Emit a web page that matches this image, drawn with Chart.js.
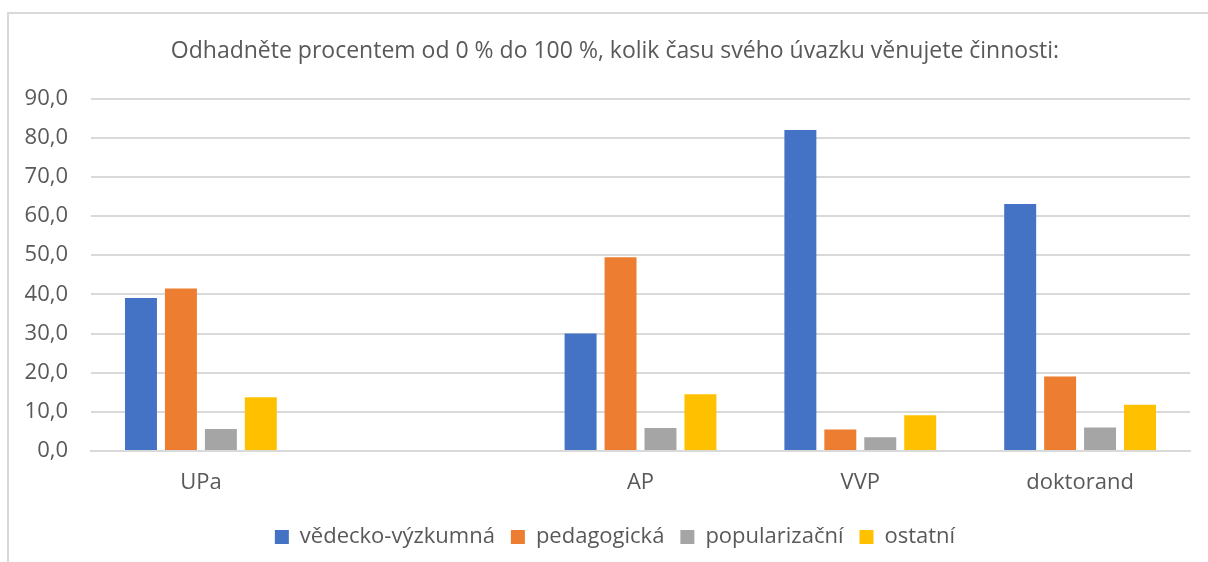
<!DOCTYPE html>
<html>
<head>
<meta charset="utf-8">
<script src="https://cdn.jsdelivr.net/npm/chart.js@4.4.1/dist/chart.umd.min.js"></script>
<style>
  html, body { margin: 0; padding: 0; background: #fff; }
  #wrap { position: relative; width: 1208px; height: 562px; }
</style>
</head>
<body>
<div id="wrap"><canvas id="barChart"></canvas></div>
<script>
// data
const categories = ['UPa', '', 'AP', 'VVP', 'doktorand'];
const vedecko = [39.1, null, 30.0, 82.0, 63.1];
const pedagogicka = [41.5, null, 49.5, 5.5, 19.0];
const popularizacni = [5.6, null, 5.9, 3.5, 6.0];
const ostatni = [13.7, null, 14.5, 9.1, 11.8];
const seriesNames = ['vědecko-výzkumná', 'pedagogická', 'popularizační', 'ostatní'];
const yTicks = [0, 10, 20, 30, 40, 50, 60, 70, 80, 90];

const textColor = '#595959';
const gridColor = '#d9d9d9';
const fontFamily = '"Open Sans", "Noto Sans", sans-serif';

// light grey frame round the chart, like the office chart box
const framePlugin = {
  id: 'frame',
  afterLayout(chart) {
    // let the y labels run into the left padding without being clipped
    chart.scales.y.left = 0;
  },
  beforeDraw(chart) {
    const c = chart.ctx;
    c.save();
    c.strokeStyle = gridColor;
    c.lineWidth = 2;
    c.beginPath();
    c.moveTo(8, chart.height + 5);
    c.lineTo(8, 13);
    c.lineTo(chart.width + 5, 13);
    c.stroke();
    c.restore();
  }
};

ctx = document.getElementById('barChart').getContext('2d');

new Chart(ctx, {
  type: 'bar',
  data: {
    labels: categories,
    datasets: [
      { label: seriesNames[0], data: vedecko, backgroundColor: '#4472C4' },
      { label: seriesNames[1], data: pedagogicka, backgroundColor: '#ED7D31' },
      { label: seriesNames[2], data: popularizacni, backgroundColor: '#A5A5A5' },
      { label: seriesNames[3], data: ostatni, backgroundColor: '#FFC000' }
    ]
  },
  plugins: [framePlugin],
  options: {
    responsive: true,
    maintainAspectRatio: false,
    animation: false,
    layout: { padding: { top: 38, right: 18, bottom: 4, left: 40 } },
    datasets: {
      bar: { categoryPercentage: 0.727, barPercentage: 0.8 }
    },
    scales: {
      x: {
        afterFit(scale) { scale.height = 59; },
        grid: { display: false },
        border: { color: gridColor, width: 2 },
        ticks: { color: textColor, font: { family: fontFamily, size: 22 }, padding: 11 }
      },
      y: {
        min: 0,
        max: 90,
        afterFit(scale) { scale.width = 51; },
        afterBuildTicks(scale) { scale.ticks = yTicks.map(v => ({ value: v })); },
        grid: { color: gridColor, lineWidth: 2, drawTicks: false },
        border: { display: false },
        ticks: {
          color: textColor,
          font: { family: fontFamily, size: 22 },
          padding: 23,
          callback: v => v.toFixed(1).replace('.', ',')
        }
      }
    },
    plugins: {
      title: {
        display: true,
        text: 'Odhadněte procentem od 0 % do 100 %, kolik času svého úvazku věnujete činnosti:',
        color: textColor,
        font: { family: fontFamily, size: 23, weight: 'normal' },
        padding: { top: 0, bottom: 33 }
      },
      legend: {
        position: 'bottom',
        labels: {
          color: textColor,
          font: { family: fontFamily, size: 22 },
          boxWidth: 14,
          boxHeight: 14,
          padding: 16
        }
      },
      tooltip: { enabled: false }
    }
  }
});
</script>
</body>
</html>
